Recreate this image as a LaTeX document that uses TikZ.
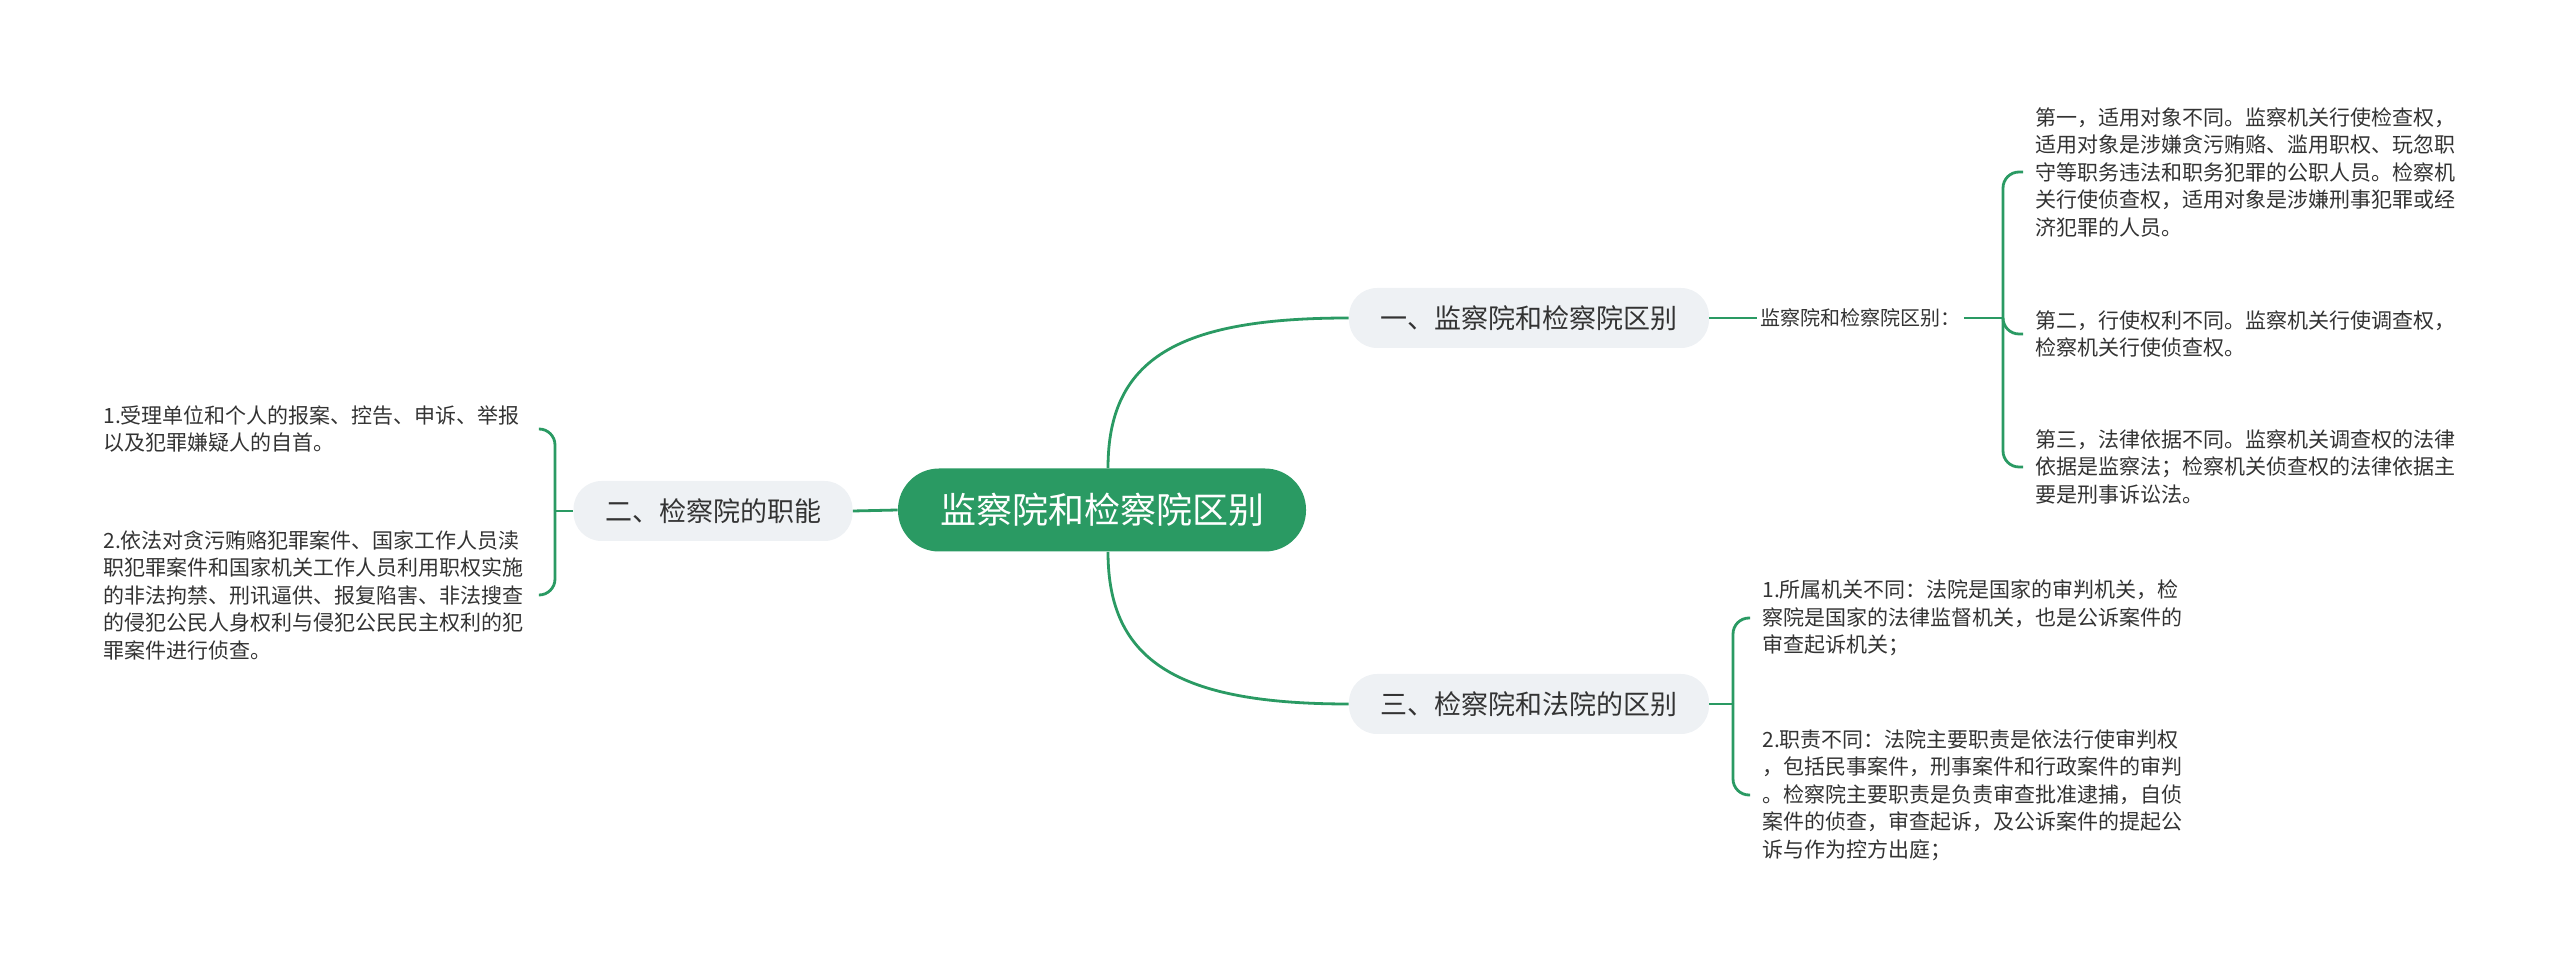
\documentclass[tikz,border=0pt]{standalone}
\usepackage{fontspec}
\newfontfamily\cjk{Noto Sans CJK SC}
\definecolor{mapgreen}{HTML}{2A9A63}
\definecolor{topicgray}{HTML}{EEF1F4}
\definecolor{ink}{HTML}{333333}

\begin{document}
\begin{tikzpicture}[x=.5pt,y=-.5pt,font=\cjk,
  link/.style={draw=mapgreen,line width=1.4pt},
  root/.style={fill=mapgreen,text=white,rounded corners=20.5pt,minimum height=41.5pt,inner xsep=21pt,font=\cjk\fontsize{18}{22}\selectfont},
  topic/.style={fill=topicgray,text=ink,rounded corners=14pt,minimum height=30pt,inner xsep=15.75pt,font=\cjk\fontsize{13.5}{16}\selectfont},
  leaf/.style={text=ink,align=left,text width=212pt,inner xsep=6pt,font=\cjk\fontsize{10.5}{13.75}\selectfont}]
\useasboundingbox (0,0) rectangle (2560,961);
\node[root] (c) at (1102,510) {监察院和检察院区别};
\node[topic] (b1) at (1529,318) {一、监察院和检察院区别};
\node[topic] (b2) at (713,511) {二、检察院的职能};
\node[topic] (b3) at (1529,704) {三、检察院和法院的区别};
\node[anchor=west,inner xsep=1.5pt,text=ink,font=\cjk\fontsize{10}{12}\selectfont] (lbl) at (1757,318) {监察院和检察院区别：};
\node[leaf,anchor=west] (t11) at (2023,172) {第一，适用对象不同。监察机关行使检查权，\\适用对象是涉嫌贪污贿赂、滥用职权、玩忽职\\守等职务违法和职务犯罪的公职人员。检察机\\关行使侦查权，适用对象是涉嫌刑事犯罪或经\\济犯罪的人员。};
\node[leaf,anchor=west] (t12) at (2023,334) {第二，行使权利不同。监察机关行使调查权，\\检察机关行使侦查权。};
\node[leaf,anchor=west] (t13) at (2023,467) {第三，法律依据不同。监察机关调查权的法律\\依据是监察法；检察机关侦查权的法律依据主\\要是刑事诉讼法。};
\node[leaf,anchor=west] (t21) at (91,429) {1.受理单位和个人的报案、控告、申诉、举报\\以及犯罪嫌疑人的自首。};
\node[leaf,anchor=west] (t22) at (91,595) {2.依法对贪污贿赂犯罪案件、国家工作人员渎\\职犯罪案件和国家机关工作人员利用职权实施\\的非法拘禁、刑讯逼供、报复陷害、非法搜查\\的侵犯公民人身权利与侵犯公民民主权利的犯\\罪案件进行侦查。};
\node[leaf,anchor=west] (t31) at (1750,618) {1.所属机关不同：法院是国家的审判机关，检\\察院是国家的法律监督机关，也是公诉案件的\\审查起诉机关；};
\node[leaf,anchor=west] (t32) at (1750,795) {2.职责不同：法院主要职责是依法行使审判权\\，包括民事案件，刑事案件和行政案件的审判\\。检察院主要职责是负责审查批准逮捕，自侦\\案件的侦查，审查起诉，及公诉案件的提起公\\诉与作为控方出庭；};
\draw[link] ([xshift=3pt]c.north) .. controls +(0,-110) and +(-170,0) .. (b1.west);
\draw[link] ([xshift=3pt]c.south) .. controls +(0,110) and +(-170,0) .. (b3.west);
\draw[link] (c.west) -- (b2.east);
\draw[link] (b1.east) -- (lbl.west);
\coordinate (j1) at (2003,318);\coordinate (j2) at (555,511);\coordinate (j3) at (1733,704);
\draw[link] (lbl.east) -- (j1);\draw[link] (b2.west) -- (j2);\draw[link] (b3.east) -- (j3);
\foreach \t in {t11,t12,t13} {\draw[link,rounded corners=8pt] (j1) |- (\t.west);}
\foreach \t in {t31,t32} {\draw[link,rounded corners=8pt] (j3) |- (\t.west);}
\foreach \t in {t21,t22} {\draw[link,rounded corners=8pt] (j2) |- (\t.east);}
\end{tikzpicture}
\end{document}
